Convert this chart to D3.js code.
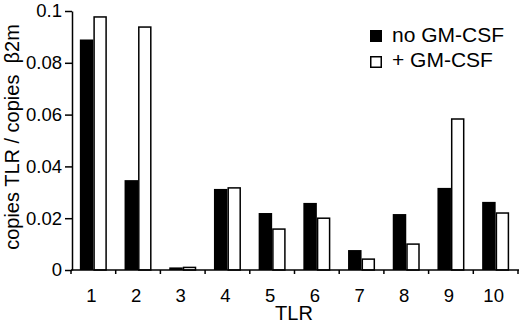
<!DOCTYPE html>
<html>
<head>
<meta charset="utf-8">
<script src="https://cdn.jsdelivr.net/npm/d3@7"></script>
<style>
  body { margin: 0; background: #fff; }
  text { font-family: "Liberation Sans", Arial, sans-serif; fill: #000; }
</style>
</head>
<body>
<svg id="chart" width="520" height="330"></svg>
<script>
let tlrs = ["1", "2", "3", "4", "5", "6", "7", "8", "9", "10"],
  noGm = [0.089, 0.0347, 0.001, 0.0313, 0.022, 0.0259, 0.0077, 0.0216, 0.0317, 0.0263],
  plusGm = [0.0977, 0.0938, 0.001, 0.0317, 0.0158, 0.020, 0.0042, 0.010, 0.0583, 0.022],
  yTicks = [0, 0.02, 0.04, 0.06, 0.08, 0.1],
  seriesNames = ["no GM-CSF", "+ GM-CSF"];

let svg = d3.select("#chart");

let x = d3.scaleBand()
  .domain(tlrs)
  .range([71, 518])
  .padding(0);

let y = d3.scaleLinear()
  .domain([0, 0.1])
  .range([270, 11]);

let barW = 13.5;

// bars
let g = svg.append("g");
tlrs.forEach((t, i) => {
  let cx = x(t) + x.bandwidth() / 2;
  g.append("rect")
    .attr("x", cx - barW)
    .attr("y", y(noGm[i]))
    .attr("width", barW)
    .attr("height", y(0) - y(noGm[i]))
    .attr("fill", "#000");
  g.append("rect")
    .attr("x", cx + 0.75)
    .attr("y", y(plusGm[i]))
    .attr("width", barW - 1.5)
    .attr("height", y(0) - y(plusGm[i]))
    .attr("fill", "#fff")
    .attr("stroke", "#000")
    .attr("stroke-width", 1.5);
});

// y axis
let yAxis = d3.axisLeft(y)
  .tickValues(yTicks)
  .tickFormat(d => d === 0 ? "0" : d3.format("")(+d.toFixed(2)))
  .tickSizeInner(7)
  .tickSizeOuter(0)
  .tickPadding(3);
svg.append("g")
  .attr("transform", "translate(72,0)")
  .call(yAxis)
  .call(a => a.select(".domain").attr("stroke-width", 1.5))
  .call(a => a.selectAll("line").attr("stroke-width", 1.5))
  .call(a => a.selectAll("text").attr("font-size", 18.5).attr("font-family", "Liberation Sans, Arial, sans-serif"));

// x axis: line + boundary ticks
let xa = svg.append("g");
xa.append("line")
  .attr("x1", 71).attr("x2", 519)
  .attr("y1", y(0)).attr("y2", y(0))
  .attr("stroke", "#000").attr("stroke-width", 1.5);
let bounds = tlrs.map(t => x(t)).concat([x(tlrs[tlrs.length - 1]) + x.bandwidth()]);
xa.selectAll(".tk").data(bounds).enter().append("line")
  .attr("x1", d => d).attr("x2", d => d)
  .attr("y1", y(0)).attr("y2", y(0) + 4)
  .attr("stroke", "#000").attr("stroke-width", 1.5);
xa.selectAll(".lbl").data(tlrs).enter().append("text")
  .attr("x", d => x(d) + x.bandwidth() / 2 - 2)
  .attr("y", 302)
  .attr("text-anchor", "middle")
  .attr("font-size", 18.5)
  .text(d => d);

// axis titles
svg.append("text")
  .attr("x", 294).attr("y", 320)
  .attr("text-anchor", "middle")
  .attr("font-size", 20)
  .text("TLR");
svg.append("text")
  .attr("transform", "translate(19,137) rotate(-90)")
  .attr("text-anchor", "middle")
  .attr("font-size", 20)
  .attr("xml:space", "preserve")
  .style("white-space", "pre")
  .text("copies TLR / copies  β2m");

// legend
let lg = svg.append("g");
lg.append("rect")
  .attr("x", 370).attr("y", 30).attr("width", 12).attr("height", 12)
  .attr("fill", "#000");
lg.append("rect")
  .attr("x", 370.75).attr("y", 56.75).attr("width", 10.5).attr("height", 10.5)
  .attr("fill", "#fff").attr("stroke", "#000").attr("stroke-width", 1.5);
lg.append("text").attr("x", 392).attr("y", 42).attr("font-size", 21).text(seriesNames[0]);
lg.append("text").attr("x", 392).attr("y", 67).attr("font-size", 21).text(seriesNames[1]);
</script>
</body>
</html>
